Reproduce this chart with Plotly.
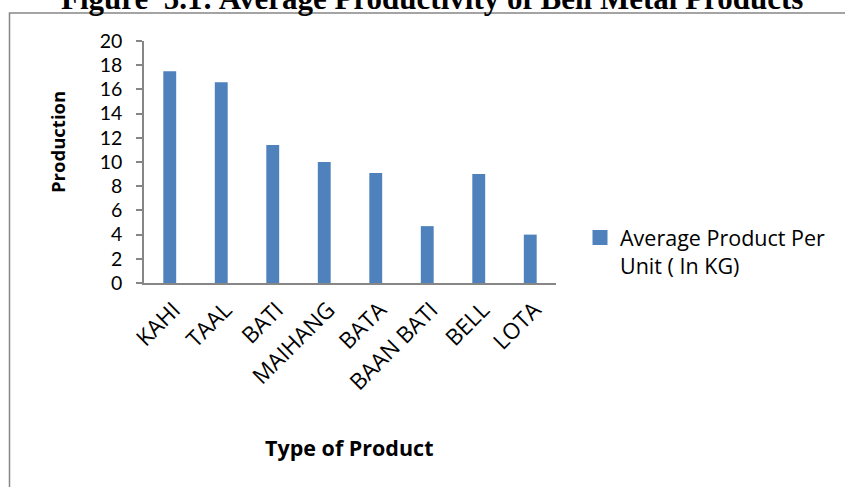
import plotly.graph_objects as go

# Average productivity per unit of bell metal products (kg)
products = ["KAHI", "TAAL", "BATI", "MAIHANG", "BATA", "BAAN BATI", "BELL", "LOTA"]
avg_product = [17.5, 16.6, 11.4, 10.0, 9.1, 4.7, 9.0, 4.0]
y_ticks = [0, 2, 4, 6, 8, 10, 12, 14, 16, 18, 20]
series_name = "Average Product Per<br>Unit ( In KG)"

W, H = 845, 487
L, R, T, B = 144, 289, 41, 204
pw, ph = W - L - R, H - T - B


def px(x):
    return (x - L) / pw


def py(y):
    return (H - B - y) / ph


BAR = "#4F81BD"
AXIS = "#868686"
FONT = "Open Sans"

fig = go.Figure()
fig.add_trace(
    go.Bar(
        x=products,
        y=avg_product,
        name=series_name,
        marker=dict(color=BAR, line=dict(width=0)),
        width=0.25,
        showlegend=False,
        legendgroup="avg",
    )
)
# Legend key: a square swatch in the bar colour
fig.add_trace(
    go.Scatter(
        x=[None],
        y=[None],
        mode="markers",
        name=series_name,
        marker=dict(symbol="square", size=15, color=BAR, line=dict(width=0)),
        legendgroup="avg",
        showlegend=True,
    )
)

fig.update_layout(
    width=W,
    height=H,
    margin=dict(l=L, r=R, t=T, b=B, autoexpand=False),
    paper_bgcolor="white",
    plot_bgcolor="white",
    font=dict(family=FONT, size=21, color="black"),
    showlegend=True,
    legend=dict(
        x=px(580),
        y=py(217),
        xanchor="left",
        yanchor="top",
        valign="top",
        font=dict(family=FONT, size=21.5),
        bgcolor="rgba(0,0,0,0)",
        itemwidth=30,
        itemsizing="trace",
    ),
    xaxis=dict(
        showline=True,
        linecolor=AXIS,
        linewidth=1.5,
        ticks="",
        tickangle=-45,
        ticklabelshift=4,
        ticklabelstandoff=3,
        tickfont=dict(family=FONT, size=22.5),
        showgrid=False,
    ),
    yaxis=dict(
        range=[0, 20],
        tickvals=y_ticks,
        showline=True,
        linecolor=AXIS,
        linewidth=1.5,
        ticks="outside",
        ticklen=6,
        tickcolor=AXIS,
        tickwidth=1.5,
        ticklabelstandoff=10,
        tickfont=dict(family="Lato", size=19.5),
        showgrid=False,
        zeroline=False,
    ),
)

# Axis titles
fig.add_annotation(
    text="<b>Production</b>",
    xref="paper", yref="paper",
    x=px(57), y=py(142),
    xanchor="center", yanchor="middle",
    textangle=-90,
    showarrow=False,
    font=dict(family=FONT, size=18.5, color="black"),
)
fig.add_annotation(
    text="<b>Type of Product</b>",
    xref="paper", yref="paper",
    x=px(349), y=py(447),
    xanchor="center", yanchor="middle",
    showarrow=False,
    font=dict(family=FONT, size=21.5, color="black"),
)

# Chart frame, running past the right and bottom edges of the page
fig.add_shape(
    type="rect",
    xref="paper",
    yref="paper",
    x0=px(9.5),
    y0=py(H + 30),
    x1=px(W + 30),
    y1=py(13),
    line=dict(color=AXIS, width=1.5),
    fillcolor="rgba(0,0,0,0)",
    layer="below",
)

# Figure caption above the frame
fig.add_annotation(
    text="<b>Figure  5.1: Average Productivity of Bell Metal Products</b>",
    xref="paper",
    yref="paper",
    x=px(432),
    y=py(-1),
    xanchor="center",
    yanchor="middle",
    showarrow=False,
    font=dict(family="Liberation Serif", size=31, color="black"),
)

fig.write_html("out.html")
